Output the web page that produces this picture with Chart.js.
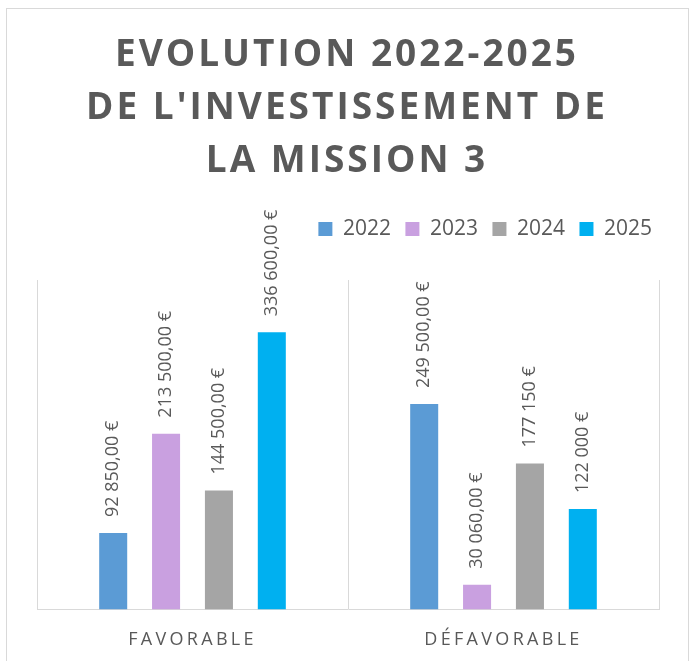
<!DOCTYPE html>
<html>
<head>
<meta charset="utf-8">
<script src="https://cdn.jsdelivr.net/npm/chart.js@4/dist/chart.umd.min.js"></script>
<style>
  html, body { margin: 0; padding: 0; background: #fff; overflow: hidden; }
  #frame { position: absolute; left: 6px; top: 8px; width: 681px; height: 700px; border: 1px solid #d9d9d9; pointer-events: none; }
  #c { position: absolute; left: 0; top: 0; }
</style>
</head>
<body>
<canvas id="c" width="691" height="661"></canvas>
<div id="frame"></div>
<script>
/* data */
var categories = ['FAVORABLE', 'DÉFAVORABLE'];
var years = ['2022', '2023', '2024', '2025'];
var values2022 = [92850, 249500];
var values2023 = [213500, 30060];
var values2024 = [144500, 177150];
var values2025 = [336600, 122000];
var text2022 = ['92 850,00 €', '249 500,00 €'];
var text2023 = ['213 500,00 €', '30 060,00 €'];
var text2024 = ['144 500,00 €', '177 150 €'];
var text2025 = ['336 600,00 €', '122 000 €'];
var axisMax = 400000;

var colors = ['#5b9bd5', '#c9a0e0', '#a5a5a5', '#00b0f0'];
var grey = '#595959';
var FONT = '"Open Sans", sans-serif';

var series = [values2022, values2023, values2024, values2025];
var texts = [text2022, text2023, text2024, text2025];

/* letter-spaced text for the title and category labels */
function spaced(obj, fn, sp) {
  if (!obj || !obj[fn] || obj[fn]._sp) { return; }
  var orig = obj[fn];
  var wrapped = function () {
    var ctx = this.ctx;
    ctx.save();
    ctx.letterSpacing = sp;
    orig.apply(this, arguments);
    ctx.restore();
  };
  wrapped._sp = true;
  obj[fn] = wrapped;
}

var spacingPlugin = {
  id: 'spacing',
  beforeDraw: function (chart) {
    spaced(chart.titleBlock, 'draw', '3px');
    spaced(chart.scales.x, 'drawLabels', '3.3px');
  }
};

/* rotated value labels above each bar */
var valueLabels = {
  id: 'valueLabels',
  afterDatasetsDraw: function (chart) {
    var ctx = chart.ctx;
    ctx.save();
    ctx.font = '18px ' + FONT;
    ctx.fillStyle = grey;
    ctx.textAlign = 'left';
    ctx.textBaseline = 'middle';
    chart.data.datasets.forEach(function (ds, i) {
      chart.getDatasetMeta(i).data.forEach(function (bar, j) {
        ctx.save();
        ctx.translate(bar.x, bar.y - 16);
        ctx.rotate(-Math.PI / 2);
        ctx.fillText(texts[i][j], 0, 0);
        ctx.restore();
      });
    });
    ctx.restore();
  }
};

new Chart(document.getElementById('c'), {
  type: 'bar',
  data: {
    labels: categories,
    datasets: years.map(function (y, i) {
      return {
        label: y,
        data: series[i],
        backgroundColor: colors[i],
        borderWidth: 0,
        categoryPercentage: 0.68,
        barPercentage: 0.53
      };
    })
  },
  options: {
    responsive: false,
    animation: false,
    devicePixelRatio: 1,
    layout: { autoPadding: false, padding: { top: 0, left: 27.5, right: 24.5, bottom: 10.5 } },
    plugins: {
      title: {
        display: true,
        text: ['EVOLUTION 2022-2025', "DE L'INVESTISSEMENT DE", 'LA MISSION 3'],
        color: grey,
        font: { family: FONT, size: 37, weight: 'bold', lineHeight: 1.43 },
        padding: { top: 29, bottom: 16.3 }
      },
      subtitle: {
        display: true,
        text: '',
        weight: 500,
        font: { size: 10, lineHeight: 1 },
        padding: { top: 0, bottom: 20.5 }
      },
      legend: {
        position: 'top',
        align: 'end',
        labels: {
          color: grey,
          font: { family: FONT, size: 21 },
          boxWidth: 14,
          boxHeight: 14,
          padding: 14.5
        }
      },
      tooltip: { enabled: false }
    },
    scales: {
      x: {
        grid: { color: '#d9d9d9', drawTicks: false, offset: true },
        border: { color: '#d9d9d9' },
        ticks: { color: grey, font: { family: FONT, size: 18 }, padding: 19.5 },
        afterFit: function (s) { s.height = 41; }
      },
      y: {
        position: 'left',
        min: 0,
        max: axisMax,
        grid: { display: false },
        border: { display: false },
        ticks: { display: false },
        afterFit: function (s) { s.width = 9.5; }
      },
      y2: {
        position: 'right',
        grid: { display: false },
        border: { display: false },
        ticks: { display: false },
        afterFit: function (s) { s.width = 7.5; }
      }
    }
  },
  plugins: [spacingPlugin, valueLabels]
});
</script>
</body>
</html>
